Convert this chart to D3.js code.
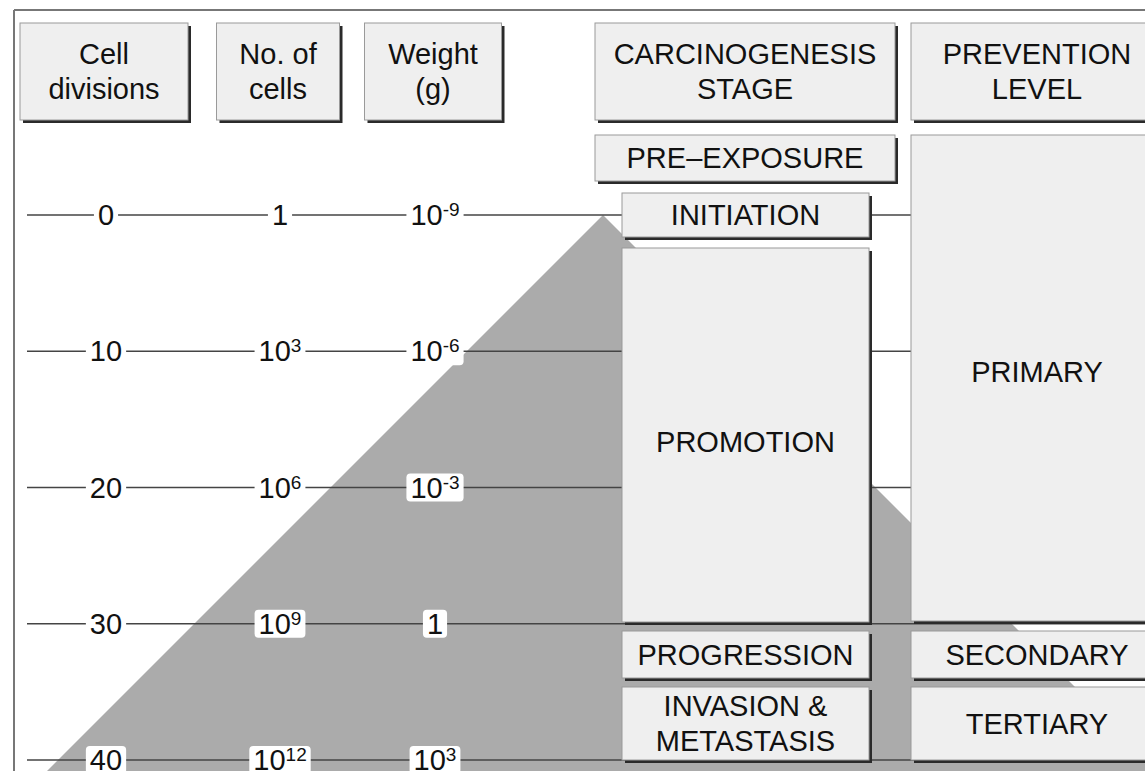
<!DOCTYPE html>
<html>
<head>
<meta charset="utf-8">
<script src="https://cdn.jsdelivr.net/npm/d3@7"></script>
<style>
body{margin:0;background:#fff;}
svg{display:block;font-family:"Liberation Sans",Arial,sans-serif;}
</style>
</head>
<body>
<svg id="chart" width="1145" height="771"></svg>
<script>
// data
var divisions = [0, 10, 20, 30, 40];
var cellBase = ["1", "10", "10", "10", "10"];
var cellExp = ["", "3", "6", "9", "12"];
var weightBase = ["10", "10", "10", "1", "10"];
var weightExp = ["-9", "-6", "-3", "", "3"];
var headers = [["Cell", "divisions"], ["No. of", "cells"], ["Weight", "(g)"]];
var stageHeader = ["CARCINOGENESIS", "STAGE"];
var levelHeader = ["PREVENTION", "LEVEL"];
var stages = [["PRE–EXPOSURE"], ["INITIATION"], ["PROMOTION"], ["PROGRESSION"], ["INVASION &", "METASTASIS"]];
var levels = [["PRIMARY"], ["SECONDARY"], ["TERTIARY"]];
// tumour growth wedge: spread (in divisions) either side of the apex
var tumour = [{div: 0, spread: 0}, {div: 41, spread: 41}];

var svg = d3.select("#chart");
var W = 1145, H = 771;
var fs = 29;

var y = d3.scaleLinear().domain([0, 40]).range([215, 760]);
var pxPerDiv = (y(40) - y(0)) / 40;
var apexX = 603;
var x = d3.scaleLinear().domain([-1, 1]).range([apexX - pxPerDiv, apexX + pxPerDiv]);

var colX = [106, 280, 435];
var colW = [168, 123, 137];

// frame
svg.append("line").attr("x1", 14).attr("x2", W).attr("y1", 10).attr("y2", 10)
   .attr("stroke", "#777").attr("stroke-width", 2);
svg.append("line").attr("x1", 14).attr("x2", 14).attr("y1", 10).attr("y2", H)
   .attr("stroke", "#777").attr("stroke-width", 2);

// grey wedge
var t0 = tumour[0], t1 = tumour[1];
var wedge = [[x(t0.spread), y(t0.div)], [x(-t1.spread), y(t1.div)], [x(t1.spread), y(t1.div)]];
svg.append("path").attr("d", d3.line()(wedge) + "Z").attr("fill", "#ababab");

// horizontal lines
svg.selectAll(".row").data(divisions).enter().append("line")
   .attr("class", "row")
   .attr("x1", 27).attr("x2", W)
   .attr("y1", function(d){ return y(d); }).attr("y2", function(d){ return y(d); })
   .attr("stroke", "#444").attr("stroke-width", 1.6);

// labels
function label(cx, cy, base, exp){
  var g = svg.append("g");
  var rect = g.append("rect");
  var t = g.append("text").attr("x", cx).attr("y", cy + 10).attr("text-anchor", "middle")
     .attr("font-size", fs).attr("fill", "#111");
  t.append("tspan").text(base);
  if(exp){
    t.append("tspan").attr("font-size", 19).attr("dy", -9).text(exp);
  }
  var b = t.node().getBBox();
  rect.attr("x", b.x - 4).attr("y", cy - 14).attr("width", b.width + 8).attr("height", 28)
      .attr("rx", 4).attr("fill", "#fff");
}
divisions.forEach(function(d, i){
  label(colX[0], y(d), String(d), "");
  label(colX[1], y(d), cellBase[i], cellExp[i]);
  label(colX[2], y(d), weightBase[i], weightExp[i]);
});

// boxes
function box(x0, y0, w, h, lines, cx, cy){
  svg.append("rect").attr("x", x0 + 3).attr("y", y0 + 3).attr("width", w).attr("height", h)
     .attr("fill", "#2a2a2a");
  svg.append("rect").attr("x", x0).attr("y", y0).attr("width", w).attr("height", h)
     .attr("fill", "#efefef").attr("stroke", "#9a9a9a").attr("stroke-width", 1);
  var lh = 35;
  var tx = cx === undefined ? x0 + w / 2 : cx;
  var ty = cy === undefined ? y0 + h / 2 : cy;
  lines.forEach(function(s, i){
    svg.append("text").attr("x", tx).attr("y", ty + (i - (lines.length - 1) / 2) * lh + 10)
       .attr("text-anchor", "middle").attr("font-size", fs).attr("fill", "#111").text(s);
  });
}

headers.forEach(function(h, i){
  box(colX[i] - colW[i] / 2 - 2, 23, colW[i], 97, h);
});
box(595, 23, 300, 97, stageHeader);
box(911, 23, 250, 97, levelHeader, 1037);

box(595, 135, 300, 46, stages[0]);
box(622, 193, 247, 44, stages[1]);
box(622, 248, 247, 374, stages[2], undefined, 442);
box(622, 631, 247, 47, stages[3]);
box(622, 687, 247, 73, stages[4]);

box(911, 135, 250, 486, levels[0], 1037, 372);
box(911, 631, 250, 47, levels[1], 1037);
box(911, 687, 250, 73, levels[2], 1037);
</script>
</body>
</html>
